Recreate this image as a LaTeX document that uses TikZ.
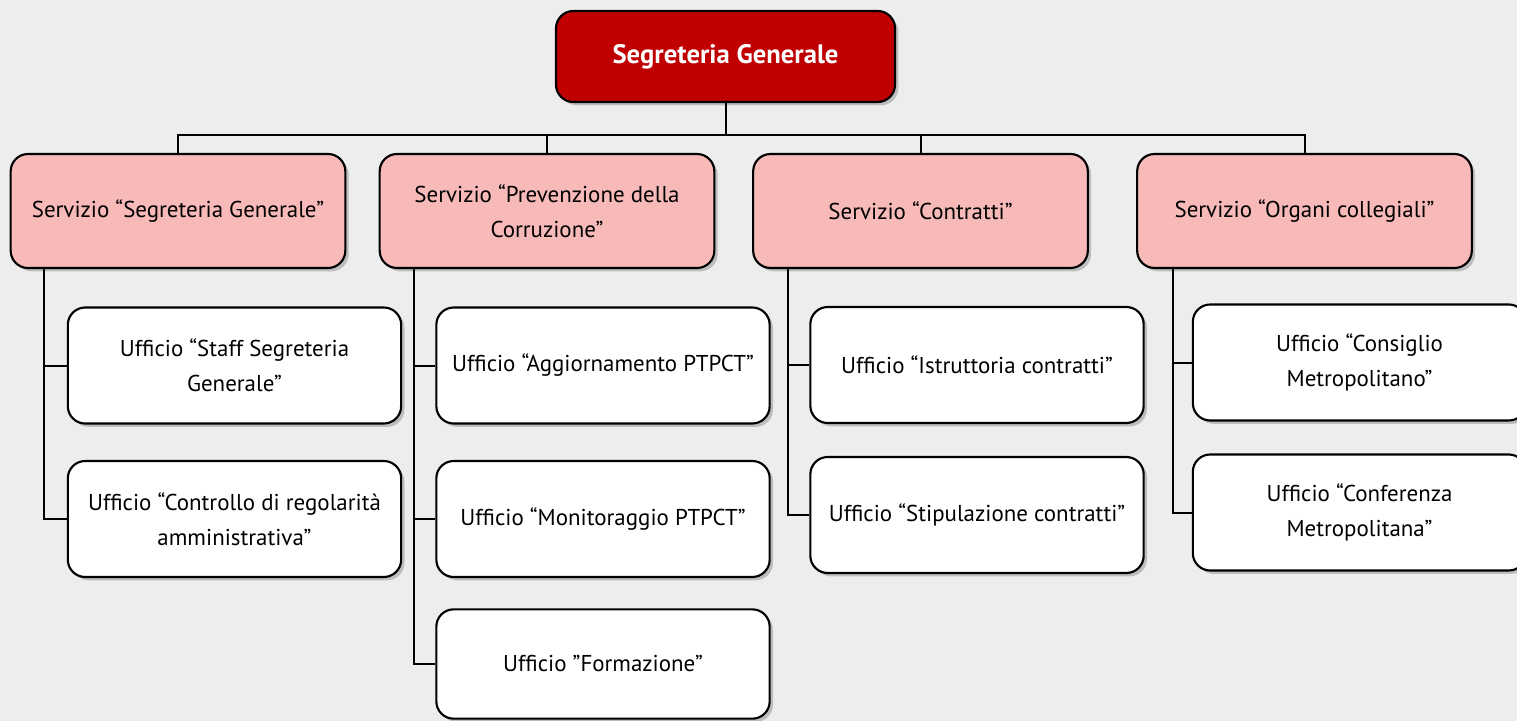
\documentclass[tikz,border=0pt]{standalone}
\usepackage{fontspec}
\setmainfont{PT Sans}
\usetikzlibrary{shadows}
\definecolor{bg}{HTML}{EDEDED}
\definecolor{topred}{HTML}{C00000}
\definecolor{srvpink}{HTML}{F8B9B9}
\begin{document}
\begin{tikzpicture}[x=0.75pt,y=-0.75pt,
  base/.style={draw=black,line width=1.6pt,rounded corners=13pt,align=center,inner sep=0pt,
    drop shadow={shadow xshift=2.5pt,shadow yshift=-2.5pt,opacity=0.35,fill=black!60}},
  topbox/.style={base,fill=topred,text=white,font=\fontsize{20}{24}\selectfont\bfseries,
    minimum width=254.25pt,minimum height=68.25pt},
  srv/.style={base,fill=srvpink,font=\fontsize{17.2}{26}\selectfont,
    minimum width=251pt,minimum height=85.5pt},
  uff/.style={base,fill=white,font=\fontsize{17.2}{26}\selectfont,
    minimum width=250pt,minimum height=87pt},
  conn/.style={line width=1.5pt,draw=black}]
\fill[bg] (0,0) rectangle (1517,721);
\clip (0,0) rectangle (1517,721);
\useasboundingbox (0,0) rectangle (1517,721);

\node[topbox] (top) at (725.5,56.5) {Segreteria Generale};

\node[srv] (s1) at (178,211) {Servizio “Segreteria Generale”};
\node[srv] (s2) at (547,211) {Servizio “Prevenzione della\\Corruzione”};
\node[srv] (s3) at (920.5,211) {Servizio “Contratti”};
\node[srv] (s4) at (1304.5,211) {Servizio “Organi collegiali”};

\node[uff] (u1a) at (234.5,365.5) {Ufficio “Staff Segreteria\\Generale”};
\node[uff] (u1b) at (234.5,519) {Ufficio “Controllo di regolarità\\amministrativa”};
\node[uff] (u2a) at (603,365.5) {Ufficio “Aggiornamento PTPCT”};
\node[uff] (u2b) at (603,519) {Ufficio “Monitoraggio PTPCT”};
\node[uff,minimum height=82pt] (u2c) at (603,664) {Ufficio \char34 Formazione\char34};
\node[uff] (u3a) at (977,365) {Ufficio “Istruttoria contratti”};
\node[uff] (u3b) at (977,515) {Ufficio “Stipulazione contratti”};
\node[uff] (u4a) at (1359.5,362.5) {Ufficio “Consiglio\\Metropolitano”};
\node[uff] (u4b) at (1359.5,512.5) {Ufficio “Conferenza\\Metropolitana”};

\coordinate (bar) at (725.5,135);
\draw[conn] (top.south) -- (bar) -| (s1.north);
\draw[conn] (bar) -| (s2.north);
\draw[conn] (bar) -| (s3.north);
\draw[conn] (bar) -| (s4.north);

\coordinate (l1) at (44,268);
\coordinate (l2) at (413.5,268);
\coordinate (l3) at (788,268);
\coordinate (l4) at (1172.5,268);
\draw[conn] (l1) |- (u1a.west);
\draw[conn] (l1) |- (u1b.west);
\draw[conn] (l2) |- (u2a.west);
\draw[conn] (l2) |- (u2b.west);
\draw[conn] (l2) |- (u2c.west);
\draw[conn] (l3) |- (u3a.west);
\draw[conn] (l3) |- (u3b.west);
\draw[conn] (l4) |- (u4a.west);
\draw[conn] (l4) |- (u4b.west);
\end{tikzpicture}
\end{document}
